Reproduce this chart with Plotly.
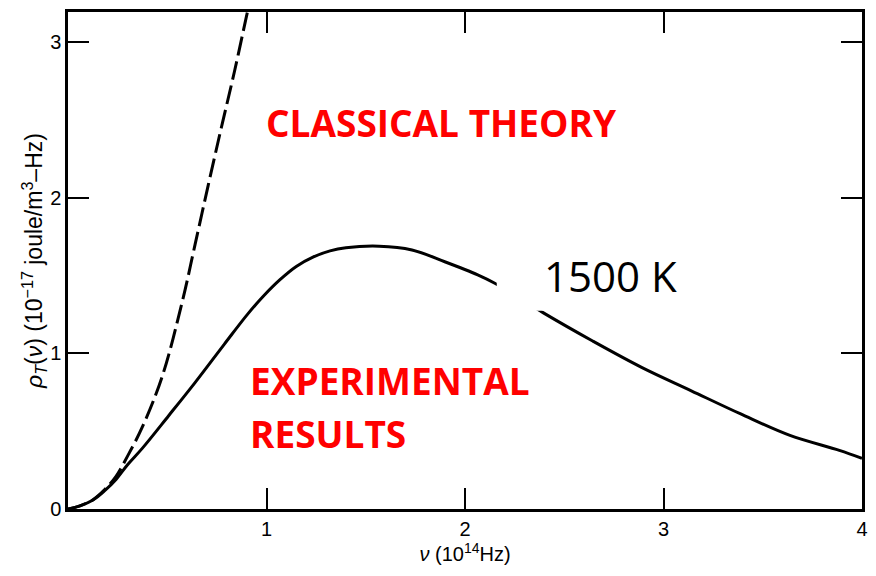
import plotly.graph_objects as go

# Experimental (solid) curve, x in 10^14 Hz, y in 10^-17 J/(m^3 Hz)
exp_nu = [0.0, 0.06, 0.126, 0.185, 0.242, 0.30, 0.374, 0.507, 0.64, 0.787, 0.903, 0.985,
          1.068, 1.15, 1.234, 1.32, 1.40, 1.567, 1.733, 1.898, 2.064, 2.15, 2.395, 2.643,
          2.892, 3.14, 3.389, 3.637, 3.886, 4.0]
exp_rho = [0.0, 0.02, 0.058, 0.118, 0.19, 0.285, 0.39, 0.60, 0.813, 1.059, 1.25, 1.37,
           1.475, 1.56, 1.62, 1.66, 1.68, 1.69, 1.666, 1.59, 1.506, 1.452, 1.261, 1.08,
           0.909, 0.76, 0.611, 0.473, 0.377, 0.326]

# Classical theory (dashed) curve
cls_nu = [0.0, 0.06, 0.126, 0.185, 0.242, 0.30, 0.374, 0.474, 0.576, 0.64, 0.706,
          0.772, 0.838, 0.896, 0.92]
cls_rho = [0.0, 0.02, 0.06, 0.125, 0.21, 0.34, 0.526, 0.85, 1.335, 1.70, 2.08,
           2.45, 2.81, 3.15, 3.29]

x_ticks = [1, 2, 3, 4]
y_ticks = [0, 1, 2, 3]

fig = go.Figure()
fig.add_trace(go.Scatter(x=cls_nu, y=cls_rho, mode="lines",
                         line=dict(color="black", width=3, dash="19px,6px", shape="spline",
                                   smoothing=1),
                         showlegend=False, hoverinfo="skip"))
fig.add_trace(go.Scatter(x=exp_nu, y=exp_rho, mode="lines",
                         line=dict(color="black", width=3, shape="spline", smoothing=1),
                         showlegend=False, hoverinfo="skip"))

# white box behind the temperature label (covers the curve as in the original)
fig.add_shape(type="rect", xref="x", yref="y", x0=2.16, x1=3.1, y0=1.275, y1=1.75,
              fillcolor="white", line=dict(width=0), layer="above")

red_font = dict(family="Open Sans", size=37, color="#ff0000")
fig.add_annotation(x=0.985, y=2.486, xref="x", yref="y", text="<b>CLASSICAL THEORY</b>",
                   showarrow=False, xanchor="left", yanchor="middle", font=red_font)
fig.add_annotation(x=0.905, y=0.824, xref="x", yref="y", text="<b>EXPERIMENTAL</b>",
                   showarrow=False, xanchor="left", yanchor="middle", font=red_font)
fig.add_annotation(x=0.905, y=0.486, xref="x", yref="y", text="<b>RESULTS</b>",
                   showarrow=False, xanchor="left", yanchor="middle", font=red_font)
fig.add_annotation(x=2.39, y=1.50, xref="x", yref="y", text="1500 K",
                   showarrow=False, xanchor="left", yanchor="middle",
                   font=dict(family="Open Sans", size=42, color="black"))

axis_common = dict(showline=True, linecolor="black", linewidth=2.5, mirror="ticks",
                   ticks="inside", ticklen=21, tickwidth=2, tickcolor="black",
                   showgrid=False, zeroline=False,
                   tickfont=dict(family="Liberation Sans", size=20, color="black"))

fig.update_xaxes(range=[0, 4], tickvals=x_ticks, ticktext=[str(v) for v in x_ticks],
                 title=dict(text="<i>ν</i> (10<sup>14</sup>Hz)", standoff=9,
                            font=dict(family="Liberation Sans", size=20, color="black")),
                 **axis_common)
fig.update_yaxes(range=[0, 3.196], tickvals=y_ticks, ticktext=[str(v) for v in y_ticks],
                 title=dict(text="<i>ρ</i><sub><i>T</i></sub>(<i>ν</i>) (10<sup>−17</sup> joule/m<sup>3</sup>–Hz)",
                            standoff=0,
                            font=dict(family="Liberation Sans", size=23, color="black")),
                 **axis_common)

# the page body adds an 8 px offset; size and margins compensate so the plot area
# lands where it sits in the reference and stays inside the visible page
fig.update_layout(width=868, height=560, margin=dict(l=60, r=14, t=1, b=59),
                  paper_bgcolor="white", plot_bgcolor="white")

fig.write_html("out.html")
